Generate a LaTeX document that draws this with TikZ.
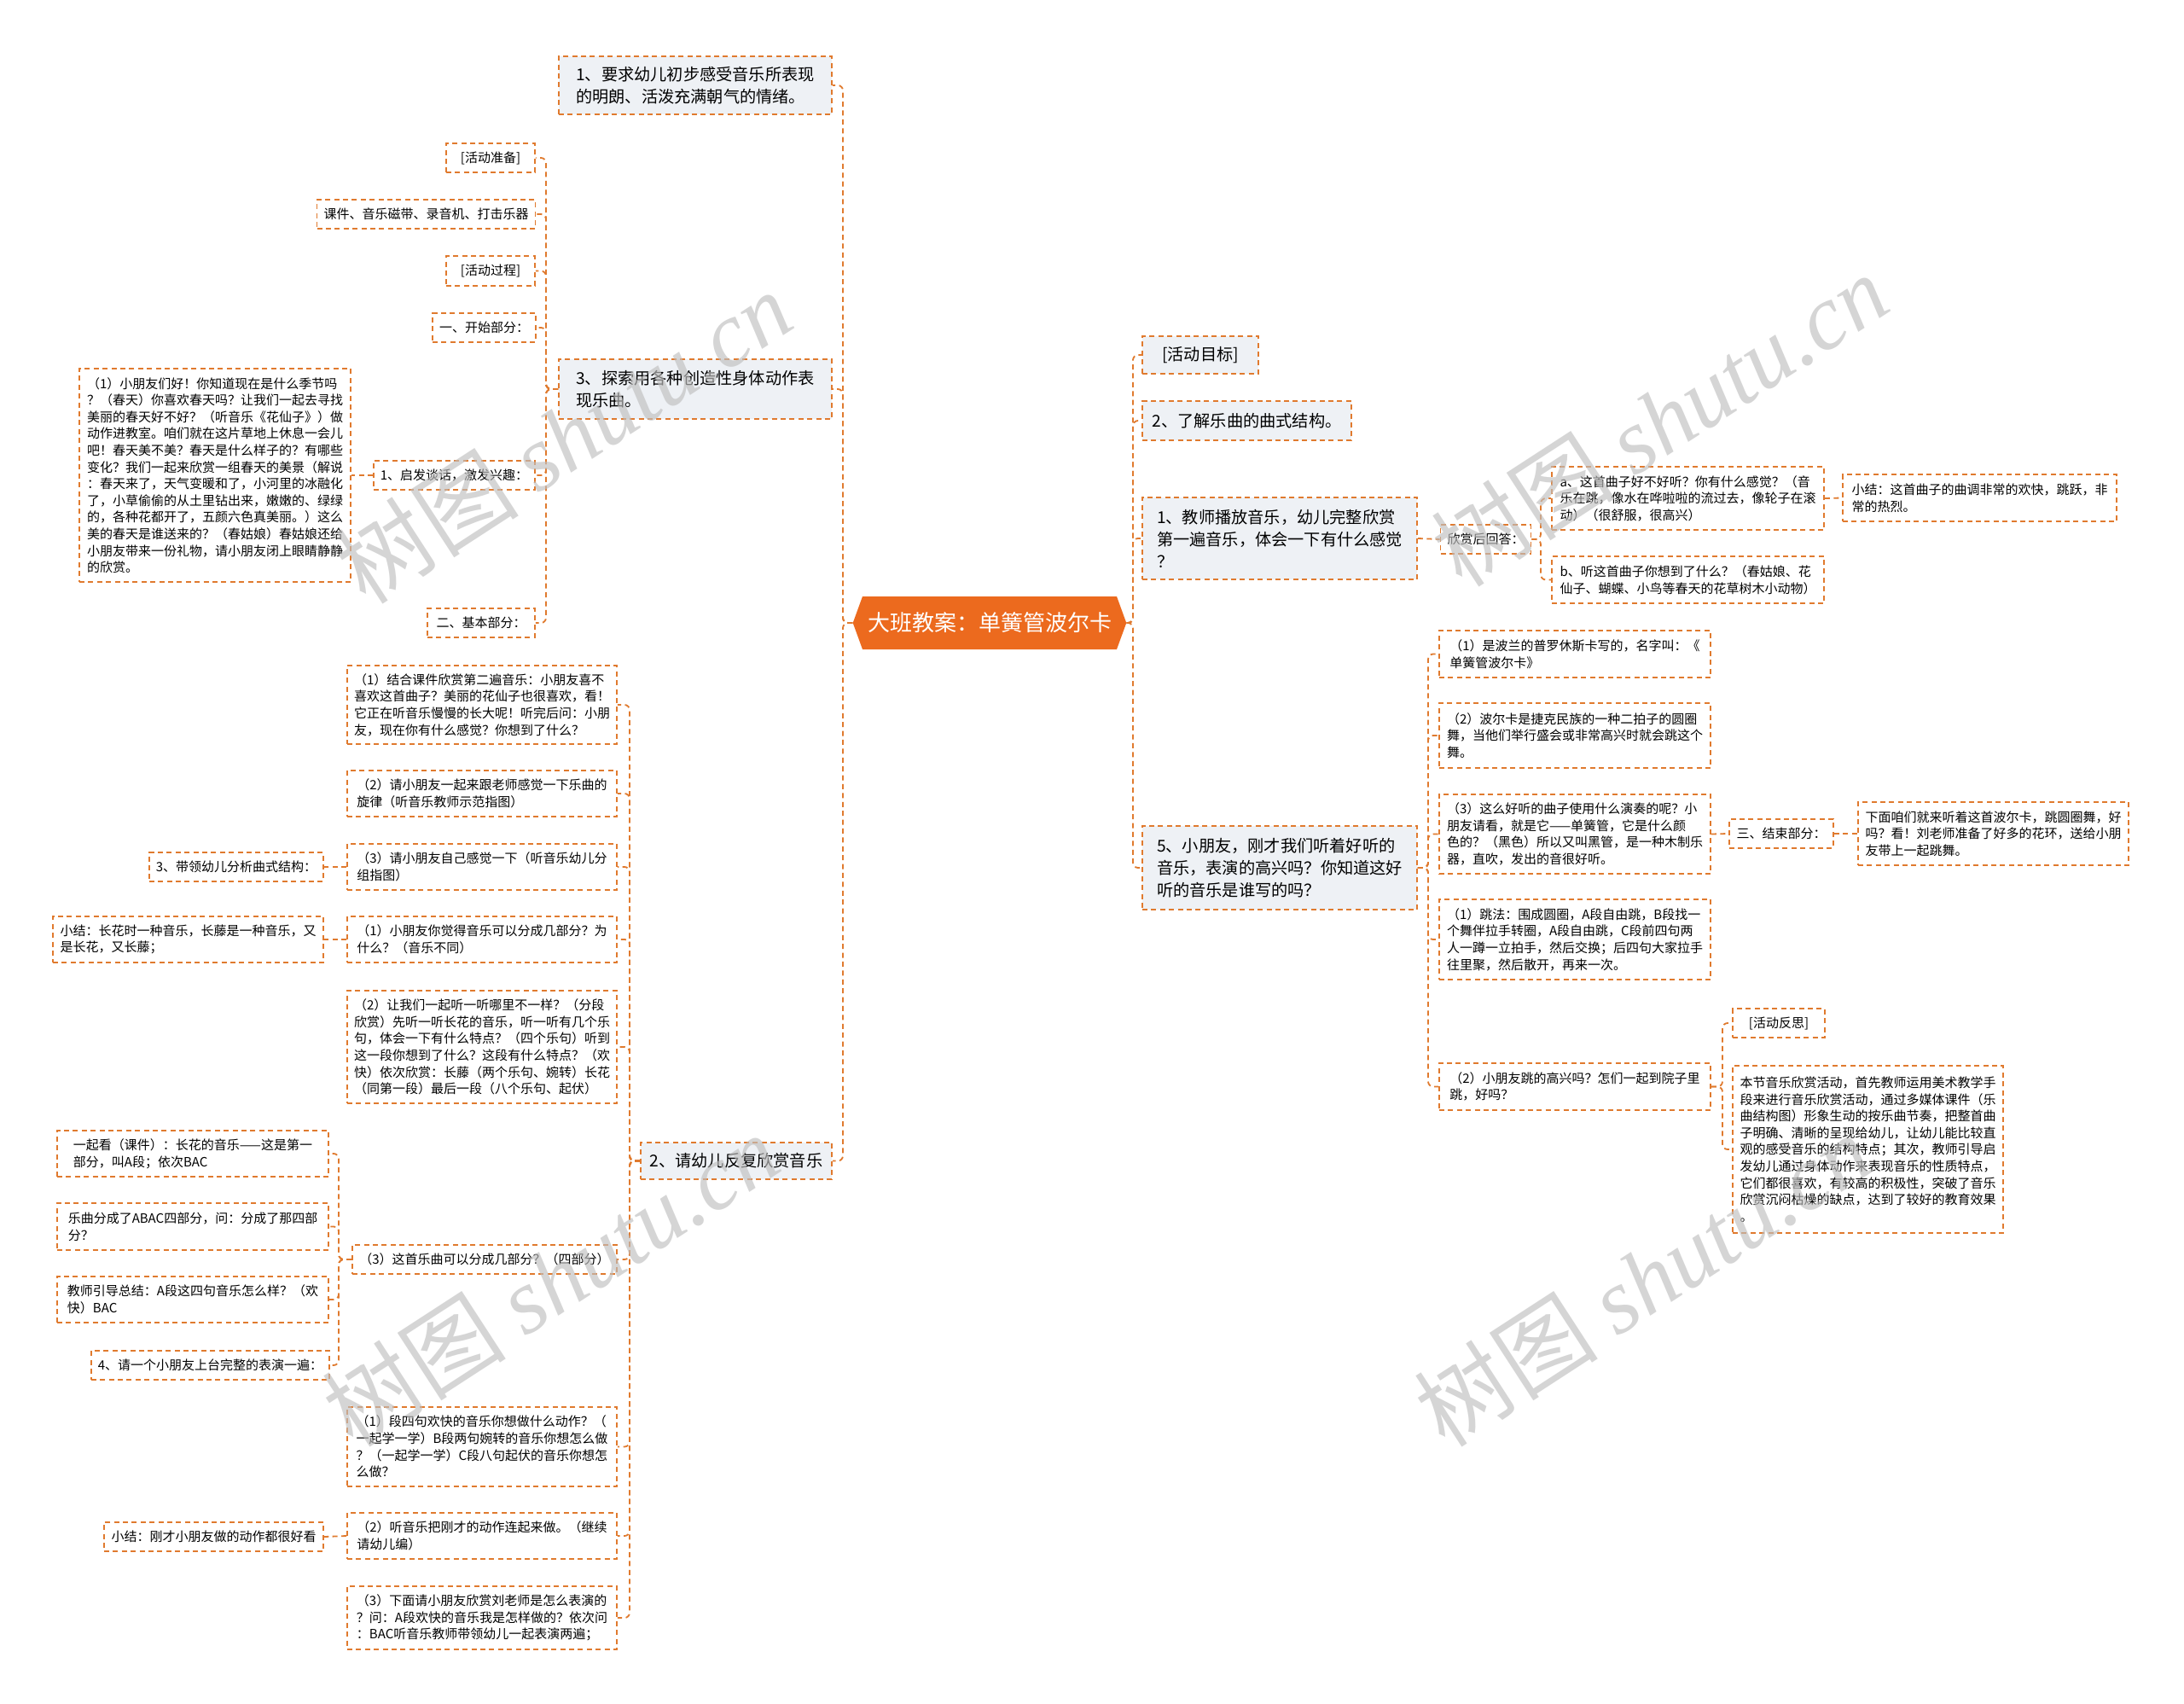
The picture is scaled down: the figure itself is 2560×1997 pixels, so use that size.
\documentclass[tikz,border=0pt]{standalone}
\usepackage{fontspec}
\setmainfont{Noto Sans CJK SC}
\newfontfamily\wmlatin{Liberation Serif}
\usetikzlibrary{shapes.symbols}
\definecolor{obord}{HTML}{E07A2E}
\definecolor{ofill}{HTML}{EC6A1E}
\definecolor{gfill}{HTML}{EEF1F5}
\tikzset{
 box/.style={draw=obord, line width=0.9pt, dash pattern=on 3pt off 2.2pt, align=left,
   inner xsep=4pt, inner ysep=2pt, fill=white, font=\fontsize{7.5}{9.8}\selectfont},
 lone/.style={box, fill=gfill, inner xsep=5pt, font=\fontsize{9.6}{13}\selectfont},
 conn/.style={draw=obord, line width=0.9pt, dash pattern=on 3pt off 2.2pt, rounded corners=3pt},
 wmark/.style={rotate=33, text=black!25, opacity=0.65, inner sep=0pt, font=\fontsize{54}{54}\selectfont},
}
\newcommand\nd[7]{%
 \pgfmathsetmacro\ndw{((#4)-(#2))*0.5}%
 \pgfmathsetmacro\ndh{((#5)-(#3))*0.5}%
 \node[#6, minimum width=\ndw pt, minimum height=\ndh pt] (#1) at ({((#2)+(#4))/2},{((#3)+(#5))/2}) {#7};}
\begin{document}
\begin{tikzpicture}[x=0.5pt,y=-0.5pt]
\fill[white] (0,0) rectangle (2560,1997);
\useasboundingbox (0,0) rectangle (2560,1997);

% trunk coordinates
\coordinate (tL) at (988,0);
\coordinate (tLb) at (640,0);
\coordinate (tLc) at (738,0);
\coordinate (tC6) at (397,0);
\coordinate (tR) at (1328,0);
\coordinate (tR1) at (1806,0);
\coordinate (tR5) at (1674,0);
\coordinate (tR6) at (2019,0);

% center
\node[signal, signal to=west and east, signal pointer angle=140, fill=ofill, text=white,
  minimum width=150pt, minimum height=31pt, inner xsep=3pt, font=\fontsize{13}{15}\selectfont]
  (root) at (1160,730) {大班教案：单簧管波尔卡};

% left level 1
\nd{La}{655}{66}{975}{134}{lone}{1、要求幼儿初步感受音乐所表现\\的明朗、活泼充满朝气的情绪。}
\nd{Lb}{655}{421}{975}{491}{lone}{3、探索用各种创造性身体动作表\\现乐曲。}
\nd{Lc}{751}{1339}{975}{1382}{lone}{2、请幼儿反复欣赏音乐}

% children of Lb
\nd{p1}{523}{168}{627}{202}{box}{[活动准备]}
\nd{p2}{372}{234}{627}{268}{box}{课件、音乐磁带、录音机、打击乐器}
\nd{p3}{523}{300}{627}{335}{box}{[活动过程]}
\nd{p4}{508}{367}{627}{401}{box}{一、开始部分：}
\nd{p5}{438}{540}{627}{574}{box}{1、启发谈话，激发兴趣：}
\nd{p6}{93}{432}{411}{682}{box}{（1）小朋友们好！你知道现在是什么季节吗\\？（春天）你喜欢春天吗？让我们一起去寻找\\美丽的春天好不好？（听音乐《花仙子》）做\\动作进教室。咱们就在这片草地上休息一会儿\\吧！春天美不美？春天是什么样子的？有哪些\\变化？我们一起来欣赏一组春天的美景（解说\\：春天来了，天气变暖和了，小河里的冰融化\\了，小草偷偷的从土里钻出来，嫩嫩的、绿绿\\的，各种花都开了，五颜六色真美丽。）这么\\美的春天是谁送来的？（春姑娘）春姑娘还给\\小朋友带来一份礼物，请小朋友闭上眼睛静静\\的欣赏。}
\nd{p7}{501}{713}{627}{747}{box}{二、基本部分：}

% children of Lc
\nd{c1}{407}{780}{723}{872}{box}{（1）结合课件欣赏第二遍音乐：小朋友喜不\\喜欢这首曲子？美丽的花仙子也很喜欢，看！\\它正在听音乐慢慢的长大呢！听完后问：小朋\\友，现在你有什么感觉？你想到了什么？}
\nd{c2}{407}{903}{723}{957}{box}{（2）请小朋友一起来跟老师感觉一下乐曲的\\旋律（听音乐教师示范指图）}
\nd{c3}{407}{989}{723}{1043}{box}{（3）请小朋友自己感觉一下（听音乐幼儿分\\组指图）}
\nd{c3a}{175}{999}{379}{1033}{box}{3、带领幼儿分析曲式结构：}
\nd{c4}{407}{1074}{723}{1128}{box}{（1）小朋友你觉得音乐可以分成几部分？为\\什么？（音乐不同）}
\nd{c4a}{62}{1074}{379}{1128}{box}{小结：长花时一种音乐，长藤是一种音乐，又\\是长花，又长藤；}
\nd{c5}{407}{1161}{723}{1293}{box}{（2）让我们一起听一听哪里不一样？（分段\\欣赏）先听一听长花的音乐，听一听有几个乐\\句，体会一下有什么特点？（四个乐句）听到\\这一段你想到了什么？这段有什么特点？（欢\\快）依次欣赏：长藤（两个乐句、婉转）长花\\（同第一段）最后一段（八个乐句、起伏）}
\nd{c6}{413}{1459}{723}{1493}{box}{（3）这首乐曲可以分成几部分？（四部分）}
\nd{c6a}{67}{1325}{385}{1379}{box}{一起看（课件）：长花的音乐——这是第一\\部分，叫A段；依次BAC}
\nd{c6b}{67}{1410}{385}{1465}{box}{乐曲分成了ABAC四部分，问：分成了那四部\\分？}
\nd{c6c}{67}{1496}{385}{1550}{box}{教师引导总结：A段这四句音乐怎么样？（欢\\快）BAC}
\nd{c6d}{108}{1583}{385}{1617}{box}{4、请一个小朋友上台完整的表演一遍：}
\nd{c7}{407}{1649}{723}{1742}{box}{（1）段四句欢快的音乐你想做什么动作？（\\一起学一学）B段两句婉转的音乐你想怎么做\\？（一起学一学）C段八句起伏的音乐你想怎\\么做？}
\nd{c8}{407}{1773}{723}{1827}{box}{（2）听音乐把刚才的动作连起来做。（继续\\请幼儿编）}
\nd{c8a}{122}{1784}{379}{1818}{box}{小结：刚才小朋友做的动作都很好看}
\nd{c9}{407}{1859}{723}{1933}{box}{（3）下面请小朋友欣赏刘老师是怎么表演的\\？问：A段欢快的音乐我是怎样做的？依次问\\：BAC听音乐教师带领幼儿一起表演两遍；}

% right level 1
\nd{Ra}{1339}{394}{1475}{438}{lone}{[活动目标]}
\nd{Rb}{1339}{470}{1584}{516}{lone}{2、了解乐曲的曲式结构。}
\nd{Rc}{1339}{583}{1661}{679}{lone}{1、教师播放音乐，幼儿完整欣赏\\第一遍音乐，体会一下有什么感觉\\？}
\nd{Rd}{1339}{968}{1661}{1066}{lone}{5、小朋友，刚才我们听着好听的\\音乐，表演的高兴吗？你知道这好\\听的音乐是谁写的吗？}

% right children
\nd{r1}{1690}{615}{1793}{649}{box}{欣赏后回答：}
\nd{r1a}{1819}{547}{2138}{621}{box}{a、这首曲子好不好听？你有什么感觉？（音\\乐在跳，像水在哗啦啦的流过去，像轮子在滚\\动）（很舒服，很高兴）}
\nd{r1a1}{2160}{556}{2481}{611}{box}{小结：这首曲子的曲调非常的欢快，跳跃，非\\常的热烈。}
\nd{r1b}{1819}{652}{2138}{707}{box}{b、听这首曲子你想到了什么？（春姑娘、花\\仙子、蝴蝶、小鸟等春天的花草树木小动物）}
\nd{r2}{1687}{739}{2005}{794}{box}{（1）是波兰的普罗休斯卡写的，名字叫：《\\单簧管波尔卡》}
\nd{r3}{1687}{824}{2005}{900}{box}{（2）波尔卡是捷克民族的一种二拍子的圆圈\\舞，当他们举行盛会或非常高兴时就会跳这个\\舞。}
\nd{r4}{1687}{931}{2005}{1024}{box}{（3）这么好听的曲子使用什么演奏的呢？小\\朋友请看，就是它——单簧管，它是什么颜\\色的？（黑色）所以又叫黑管，是一种木制乐\\器，直吹，发出的音很好听。}
\nd{r4a}{2027}{960}{2149}{994}{box}{三、结束部分：}
\nd{r4b}{2178}{940}{2495}{1014}{box}{下面咱们就来听着这首波尔卡，跳圆圈舞，好\\吗？看！刘老师准备了好多的花环，送给小朋\\友带上一起跳舞。}
\nd{r5}{1687}{1054}{2005}{1148}{box}{（1）跳法：围成圆圈，A段自由跳，B段找一\\个舞伴拉手转圈，A段自由跳，C段前四句两\\人一蹲一立拍手，然后交换；后四句大家拉手\\往里聚，然后散开，再来一次。}
\nd{r6}{1687}{1246}{2005}{1301}{box}{（2）小朋友跳的高兴吗？怎们一起到院子里\\跳，好吗？}
\nd{r6a}{2031}{1182}{2139}{1216}{box}{[活动反思]}
\nd{r6b}{2031}{1249}{2348}{1445}{box}{本节音乐欣赏活动，首先教师运用美术教学手\\段来进行音乐欣赏活动，通过多媒体课件（乐\\曲结构图）形象生动的按乐曲节奏，把整首曲\\子明确、清晰的呈现给幼儿，让幼儿能比较直\\观的感受音乐的结构特点；其次，教师引导启\\发幼儿通过身体动作来表现音乐的性质特点，\\它们都很喜欢，有较高的积极性，突破了音乐\\欣赏沉闷枯燥的缺点，达到了较好的教育效果\\。}

% connectors: center to level 1
\foreach \c in {La,Lb,Lc} \draw[conn] (root.west) -- (root.west -| tL) |- (\c.east);
\foreach \c in {Ra,Rb,Rc,Rd} \draw[conn] (root.east) -- (root.east -| tR) |- (\c.west);
% Lb children
\foreach \c in {p1,p2,p3,p4,p5,p7} \draw[conn] (Lb.west) -- (Lb.west -| tLb) |- (\c.east);
\draw[conn] (p5.west) -- (p6.east |- p5.west);
% Lc children
\foreach \c in {c1,c2,c3,c4,c5,c6,c7,c8,c9} \draw[conn] (Lc.west) -- (Lc.west -| tLc) |- (\c.east);
\draw[conn] (c3.west) -- (c3a.east);
\draw[conn] (c4.west) -- (c4a.east);
\draw[conn] (c8.west) -- (c8a.east);
\foreach \c in {c6a,c6b,c6c,c6d} \draw[conn] (c6.west) -- (c6.west -| tC6) |- (\c.east);
% right
\draw[conn] (Rc.east) -- (r1.west);
\foreach \c in {r1a,r1b} \draw[conn] (r1.east) -- (r1.east -| tR1) |- (\c.west);
\draw[conn] (r1a.east) -- (r1a1.west);
\foreach \c in {r2,r3,r4,r5,r6} \draw[conn] (Rd.east) -- (Rd.east -| tR5) |- (\c.west);
\draw[conn] (r4.east) -- (r4a.west);
\draw[conn] (r4a.east) -- (r4b.west);
\foreach \c in {r6a,r6b} \draw[conn] (r6.east) -- (r6.east -| tR6) |- (\c.west);

% watermarks
\node[wmark] (w1) at (660,512) {树图 {\wmlatin\itshape shutu.cn}};
\node[wmark] (w2) at (1945,492) {树图 {\wmlatin\itshape shutu.cn}};
\node[wmark] (w3) at (645,1500) {树图 {\wmlatin\itshape shutu.cn}};
\node[wmark] (w4) at (1925,1500) {树图 {\wmlatin\itshape shutu.cn}};
\end{tikzpicture}
\end{document}
